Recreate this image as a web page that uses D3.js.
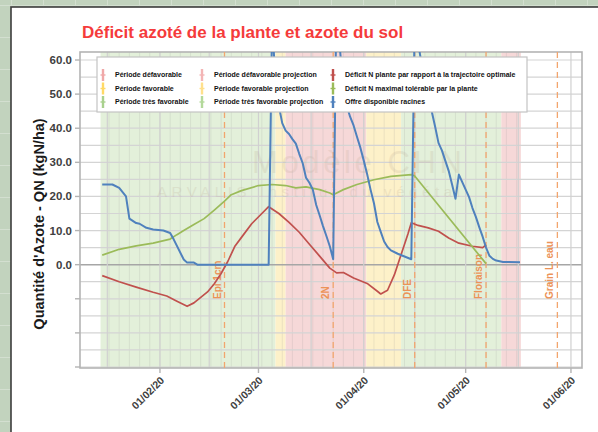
<!DOCTYPE html>
<html lang="fr">
<head>
  <meta charset="UTF-8">
  <title>Déficit azoté de la plante et azote du sol</title>
  <script src="https://cdn.jsdelivr.net/npm/d3@7"></script>
  <style>
    body { margin: 0; background: #c2d3be; }
    svg { display: block; font-family: "Liberation Sans", Arial, sans-serif; }
  </style>
</head>
<body>
<script>
  // périodes de fond : début, fin, type
  const periodes = [
    ['2020-01-14T12', '2020-03-06T00', 'tresFav'],
    ['2020-03-06T00', '2020-03-09T00', 'fav'],
    ['2020-03-09T00', '2020-04-01T18', 'defav'],
    ['2020-04-01T18', '2020-04-12T00', 'fav'],
    ['2020-04-12T00', '2020-05-11T12', 'tresFav'],
    ['2020-05-11T12', '2020-05-17T06', 'defav']
  ];

  // stades
  const stades = [
    ['2020-02-20', 'Epi 1cm'],
    ['2020-03-23', '2N'],
    ['2020-04-16', 'DFE'],
    ['2020-05-07', 'Floraison'],
    ['2020-05-28', 'Grain L. eau']
  ];

  // Déficit N plante par rapport à la trajectoire optimale
  const deficitPlante = [
    ['2020-01-15', -3.2], ['2020-01-20', -5.0], ['2020-01-25', -6.6], ['2020-01-30', -8.1],
    ['2020-02-03', -9.2], ['2020-02-06', -10.7], ['2020-02-09', -12.2], ['2020-02-11', -11.2],
    ['2020-02-13', -9.6], ['2020-02-15', -8.0], ['2020-02-17', -5.6], ['2020-02-19', -2.6],
    ['2020-02-21', 1.0], ['2020-02-23', 5.3], ['2020-02-25', 8.0], ['2020-02-28', 12.0],
    ['2020-03-02', 15.0], ['2020-03-04', 17.0], ['2020-03-07', 15.0], ['2020-03-10', 12.4],
    ['2020-03-13', 9.5], ['2020-03-16', 6.0], ['2020-03-19', 2.5], ['2020-03-22', -1.0],
    ['2020-03-24', -2.4], ['2020-03-26', -2.3], ['2020-03-29', -3.9], ['2020-04-02', -5.5],
    ['2020-04-05', -7.8], ['2020-04-06', -8.6], ['2020-04-08', -7.5], ['2020-04-10', -3.0],
    ['2020-04-12', 3.0], ['2020-04-14', 9.0], ['2020-04-15', 12.3], ['2020-04-17', 11.5],
    ['2020-04-20', 10.8], ['2020-04-23', 9.8], ['2020-04-26', 7.8], ['2020-04-29', 6.3],
    ['2020-05-03', 5.4], ['2020-05-06', 5.0], ['2020-05-07', 5.8]
  ];

  // Déficit N maximal tolérable par la plante
  const deficitMax = [
    ['2020-01-15', 2.8], ['2020-01-20', 4.5], ['2020-01-25', 5.5], ['2020-01-30', 6.3],
    ['2020-02-04', 7.5], ['2020-02-06', 8.8], ['2020-02-08', 10.0], ['2020-02-11', 11.8],
    ['2020-02-14', 13.5], ['2020-02-17', 16.0], ['2020-02-20', 18.6], ['2020-02-22', 20.5],
    ['2020-02-25', 21.7], ['2020-03-01', 23.2], ['2020-03-05', 23.5], ['2020-03-09', 23.2],
    ['2020-03-12', 22.5], ['2020-03-15', 22.8], ['2020-03-19', 22.0], ['2020-03-22', 21.0],
    ['2020-03-23', 20.5], ['2020-03-26', 22.0], ['2020-03-30', 23.5], ['2020-04-04', 24.9],
    ['2020-04-09', 25.9], ['2020-04-15', 26.4], ['2020-04-16', 26.0], ['2020-05-07', 0.3]
  ];

  // Offre disponible racines
  const offreRacines = [
    ['2020-01-15', 23.5], ['2020-01-18', 23.5], ['2020-01-20', 22.5], ['2020-01-22', 20.0],
    ['2020-01-23', 13.5], ['2020-01-25', 12.2], ['2020-01-26', 12.0], ['2020-01-28', 10.8],
    ['2020-01-30', 10.3], ['2020-02-02', 10.0], ['2020-02-04', 9.3], ['2020-02-05', 7.5],
    ['2020-02-08', 1.5], ['2020-02-09', 0.6], ['2020-02-11', 0.6], ['2020-02-12', 0.0],
    ['2020-03-04', 0.0], ['2020-03-05', 70], ['2020-03-06', 55], ['2020-03-07', 46.5],
    ['2020-03-08', 41.5], ['2020-03-09', 39.3], ['2020-03-10', 38.3], ['2020-03-11', 36.8],
    ['2020-03-12', 35.5], ['2020-03-13', 32.5], ['2020-03-14', 29.8], ['2020-03-15', 25.5],
    ['2020-03-16', 24.0], ['2020-03-17', 22.0], ['2020-03-18', 17.5], ['2020-03-19', 14.5],
    ['2020-03-20', 11.3], ['2020-03-21', 8.4], ['2020-03-22', 5.4], ['2020-03-23', 1.6],
    ['2020-03-24', 80], ['2020-03-25', 63], ['2020-03-26', 52], ['2020-03-27', 46.5],
    ['2020-03-28', 43.3], ['2020-03-29', 40.8], ['2020-03-30', 37.5], ['2020-03-31', 34.3],
    ['2020-04-01', 30.5], ['2020-04-02', 26.5], ['2020-04-03', 22.0], ['2020-04-04', 18.0],
    ['2020-04-05', 12.5], ['2020-04-06', 9.6], ['2020-04-07', 6.8], ['2020-04-08', 5.2],
    ['2020-04-09', 4.2], ['2020-04-11', 3.2], ['2020-04-13', 2.4], ['2020-04-15', 1.6],
    ['2020-04-16', 72], ['2020-04-17', 65], ['2020-04-18', 59], ['2020-04-19', 54],
    ['2020-04-20', 49], ['2020-04-21', 45], ['2020-04-22', 40.5], ['2020-04-23', 35.7],
    ['2020-04-24', 33.5], ['2020-04-25', 30.5], ['2020-04-26', 27.5], ['2020-04-27', 23.5],
    ['2020-04-28', 19.3], ['2020-04-29', 26.4], ['2020-04-30', 24.2], ['2020-05-01', 22.0],
    ['2020-05-02', 19.8], ['2020-05-03', 16.6], ['2020-05-04', 14.0], ['2020-05-05', 11.0],
    ['2020-05-06', 8.2], ['2020-05-07', 5.0], ['2020-05-08', 2.6], ['2020-05-09', 1.7],
    ['2020-05-10', 1.2], ['2020-05-12', 0.8], ['2020-05-17', 0.7]
  ];

  const moisTicks = ['2020-02-01', '2020-03-01', '2020-04-01', '2020-05-01', '2020-06-01'];
  const yTicks = [-30, -20, -10, 0, 10, 20, 30, 40, 50, 60];
  const yLabels = [0, 10, 20, 30, 40, 50, 60];

  const legende = [
    ['Période défavorable', '#f0a8a8'],
    ['Période favorable', '#ffd966'],
    ['Période très favorable', '#a9d18e'],
    ['Période défavorable projection', '#f3b5b5'],
    ['Période favorable projection', '#ffe08c'],
    ['Période très favorable projection', '#b4d99b'],
    ['Déficit N plante par rapport à la trajectoire optimale', '#c0504d'],
    ['Déficit N maximal tolérable par la plante', '#9bbb59'],
    ['Offre disponible racines', '#4f81bd']
  ];

  const couleurFond = {tresFav: '#e3f0da', fav: '#fdf1c9', defav: '#f6d8d8'};

  function parse (s) {
    const [d, h] = s.split('T');
    const [Y, M, D] = d.split('-').map(Number);
    return new Date(Y, M - 1, D, h ? +h : 0);
  }

  const width = 598;
  const height = 432;
  const plot = {left: 80, right: 582, top: 52, bottom: 368};

  const x = d3.scaleTime()
    .domain([new Date(2020, 0, 8, 11), new Date(2020, 5, 4, 6)])
    .range([plot.left, plot.right]);

  const y = d3.scaleLinear()
    .domain([-30, 60])
    .range([367, 60]);

  const svg = d3.select('body').append('svg').attr('width', width).attr('height', height);

  // fond quadrillé
  const pat = svg.append('defs').append('pattern')
    .attr('id', 'quad').attr('patternUnits', 'userSpaceOnUse')
    .attr('width', 32).attr('height', 32).attr('x', 11).attr('y', 5);
  pat.append('rect').attr('width', 32).attr('height', 32).attr('fill', '#c2d3be');
  pat.append('path').attr('d', 'M0.5,0V32M0,0.5H32').attr('stroke', '#d3dfd0').attr('stroke-width', 1);
  svg.append('rect').attr('width', width).attr('height', height).attr('fill', 'url(#quad)');

  // panneau blanc
  svg.append('rect')
    .attr('x', 11).attr('y', 7).attr('width', 620).attr('height', 460)
    .attr('fill', '#fff').attr('stroke', '#3c3c3c').attr('stroke-width', 1.6);

  svg.append('clipPath').attr('id', 'clipPlot').append('rect')
    .attr('x', plot.left).attr('y', plot.top)
    .attr('width', plot.right - plot.left).attr('height', plot.bottom - plot.top);

  // bandes de périodes
  const bandes = svg.append('g');
  bandes.selectAll('rect').data(periodes).join('rect')
    .attr('x', d => x(parse(d[0])))
    .attr('width', d => x(parse(d[1])) - x(parse(d[0])))
    .attr('y', plot.top).attr('height', plot.bottom - plot.top)
    .attr('fill', d => couleurFond[d[2]]);

  // rayures verticales des bandes (tous les 3 jours)
  const debutBandes = parse(periodes[0][0]);
  const finBandes = parse(periodes[periodes.length - 1][1]);
  const rayures = d3.timeDay.range(debutBandes, finBandes)
    .filter(d => Math.round((d - parse('2020-02-01')) / 864e5) % 3 === 0);
  bandes.selectAll('line').data(rayures).join('line')
    .attr('x1', d => x(d)).attr('x2', d => x(d))
    .attr('y1', plot.top).attr('y2', plot.bottom)
    .attr('stroke', 'rgba(140,140,140,0.16)').attr('stroke-width', 1);

  // grille horizontale tous les 5
  svg.append('g').selectAll('line').data(d3.range(-30, 61, 5)).join('line')
    .attr('x1', plot.left).attr('x2', plot.right)
    .attr('y1', d => y(d)).attr('y2', d => y(d))
    .attr('stroke', d => d === 0 ? '#a6a6a6' : '#d4d4d4')
    .attr('stroke-width', d => d === 0 ? 1.5 : 1.2);

  // grille verticale : mois + milieu des mois
  const mois = moisTicks.map(parse);
  const milieux = [new Date(2020, 0, 1)].concat(mois).slice(0, -1)
    .map((d, i) => new Date((+d + +mois[i]) / 2))
    .filter(d => x(d) > plot.left);
  svg.append('g').selectAll('line').data(mois.concat(milieux)).join('line')
    .attr('x1', d => x(d)).attr('x2', d => x(d))
    .attr('y1', plot.top).attr('y2', plot.bottom)
    .attr('stroke', '#d0d0d0').attr('stroke-width', 1.2);

  // filigrane
  const filigrane = svg.append('g').attr('fill', '#bba994').attr('opacity', 0.2);
  filigrane.append('text').attr('x', 252).attr('y', 173)
    .attr('font-size', 31).attr('textLength', 210).text('Modèle CHN');
  filigrane.append('text').attr('x', 157).attr('y', 197)
    .attr('font-size', 15).attr('textLength', 303).text('ARVALIS Institut du végétal');

  // cadre
  svg.append('rect')
    .attr('x', plot.left).attr('y', plot.top)
    .attr('width', plot.right - plot.left).attr('height', plot.bottom - plot.top)
    .attr('fill', 'none').attr('stroke', '#b4b4b4').attr('stroke-width', 1.6);

  // stades
  const gStades = svg.append('g');
  gStades.selectAll('line').data(stades).join('line')
    .attr('x1', d => x(parse(d[0]))).attr('x2', d => x(parse(d[0])))
    .attr('y1', plot.top).attr('y2', plot.bottom)
    .attr('stroke', '#f2a56e').attr('stroke-width', 1.3).attr('stroke-dasharray', '6,4');
  gStades.selectAll('text').data(stades).join('text')
    .attr('transform', d => `translate(${x(parse(d[0])) - 4},299) rotate(-90)`)
    .attr('font-size', 10).attr('font-weight', 700).attr('fill', '#ec9358')
    .text(d => d[1]);

  // courbes
  const line = d3.line()
    .x(d => x(parse(d[0])))
    .y(d => y(d[1]));

  const courbes = svg.append('g').attr('clip-path', 'url(#clipPlot)');
  [[deficitPlante, '#c0504d', 1.7], [deficitMax, '#9bbb59', 1.7], [offreRacines, '#4f81bd', 2]]
    .forEach(([serie, couleur, ep]) => {
      courbes.append('path').datum(serie)
        .attr('fill', 'none').attr('stroke', couleur).attr('stroke-width', ep)
        .attr('stroke-linejoin', 'round')
        .attr('d', line);
    });

  // axe Y
  const gy = svg.append('g');
  gy.selectAll('line').data(yTicks).join('line')
    .attr('x1', plot.left - 5).attr('x2', plot.left)
    .attr('y1', d => y(d)).attr('y2', d => y(d))
    .attr('stroke', '#b4b4b4').attr('stroke-width', 1.4);
  gy.selectAll('text').data(yLabels).join('text')
    .attr('x', 72).attr('y', d => y(d)).attr('dy', '0.35em')
    .attr('text-anchor', 'end').attr('font-size', 11.5).attr('font-weight', 700).attr('fill', '#404040')
    .text(d => d3.format('.1f')(d));

  // axe X
  const gx = svg.append('g');
  gx.selectAll('line').data(mois).join('line')
    .attr('x1', d => x(d)).attr('x2', d => x(d))
    .attr('y1', plot.bottom).attr('y2', plot.bottom + 5)
    .attr('stroke', '#b4b4b4').attr('stroke-width', 1.4);
  gx.selectAll('text').data(mois).join('text')
    .attr('transform', d => `translate(${x(d) + 5},381) rotate(-45)`)
    .attr('text-anchor', 'end').attr('font-size', 10.5).attr('font-weight', 700).attr('fill', '#404040')
    .text(d => d3.timeFormat('%d/%m/%y')(d));

  // titre de l'axe Y
  svg.append('text')
    .attr('transform', 'translate(44,224) rotate(-90)')
    .attr('text-anchor', 'middle').attr('font-size', 14.5).attr('font-weight', 700).attr('fill', '#1a1a1a')
    .text("Quantité d'Azote - QN (kgN/ha)");

  // titre
  svg.append('text')
    .attr('x', 82).attr('y', 38)
    .attr('font-size', 17).attr('font-weight', 700).attr('fill', '#f53b3b')
    .text('Déficit azoté de la plante et azote du sol');

  // légende
  const gLeg = svg.append('g');
  gLeg.append('rect').attr('x', 97).attr('y', 57).attr('width', 430).attr('height', 55)
    .attr('fill', '#fff').attr('stroke', '#c4c4c4').attr('stroke-width', 1.2);
  const colX = [103, 202, 333];
  const rowY = [75, 88.5, 102];
  const items = gLeg.selectAll('g.item').data(legende).join('g')
    .attr('class', 'item')
    .attr('transform', (d, i) => `translate(${colX[Math.floor(i / 3)]},${rowY[i % 3]})`);
  items.append('line').attr('x1', 0).attr('x2', 0).attr('y1', -6).attr('y2', 6)
    .attr('stroke', d => d[1]).attr('stroke-width', 2.4);
  items.append('line').attr('x1', -2.5).attr('x2', 2.5).attr('y1', 0).attr('y2', 0)
    .attr('stroke', d => d[1]).attr('stroke-width', 1.4);
  items.append('text').attr('x', 12).attr('dy', '0.35em')
    .attr('font-size', 7).attr('font-weight', 700).attr('fill', '#111')
    .text(d => d[0]);
</script>
</body>
</html>
